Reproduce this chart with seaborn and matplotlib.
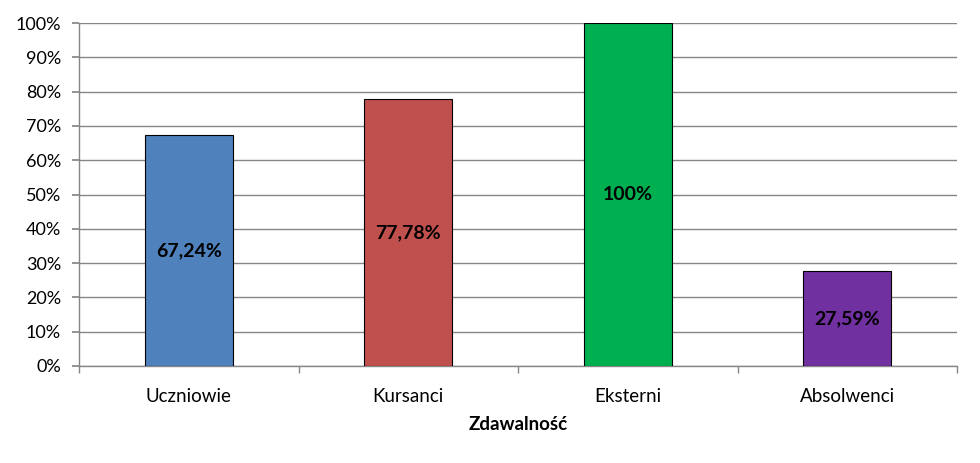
import matplotlib
matplotlib.use("Agg")
import matplotlib.pyplot as plt
import seaborn as sns
import pandas as pd
from matplotlib.ticker import PercentFormatter, FixedLocator

categories = ["Uczniowie", "Kursanci", "Eksterni", "Absolwenci"]
values = [67.24, 77.78, 100.0, 27.59]
value_labels = ["67,24%", "77,78%", "100%", "27,59%"]
colors = ["#4F81BD", "#C0504D", "#00B050", "#7030A0"]
xlabel = "Zdawalność"

sns.set_theme(style="white")
plt.rcParams["font.family"] = ["Lato", "DejaVu Sans"]

df = pd.DataFrame({"cat": categories, "val": values})

fig = plt.figure(figsize=(9.8, 4.63), dpi=100)
ax = fig.add_axes([79/980, 97/463, (957-79)/980, (366-23)/463])

sns.barplot(data=df, x="cat", y="val", hue="cat", palette=colors, legend=False,
            saturation=1, width=0.4, edgecolor="black", linewidth=0.8, ax=ax, zorder=3)

ax.set_ylim(0, 100)
ax.set_xlim(-0.5, len(categories) - 0.5)
ax.yaxis.set_major_locator(FixedLocator(range(0, 101, 10)))
ax.yaxis.set_major_formatter(PercentFormatter(decimals=0))
ax.grid(axis="y", color="#868686", linewidth=1, zorder=0)
ax.set_axisbelow(True)

for s in ["top", "right"]:
    ax.spines[s].set_visible(False)
for s in ["left", "bottom"]:
    ax.spines[s].set_color("#868686")
    ax.spines[s].set_linewidth(1)

ax.tick_params(axis="y", which="major", left=True, length=5, color="#868686",
               labelsize=13, pad=8, labelcolor="black")
ax.set_xticks(range(len(categories)))
ax.set_xticklabels(categories)
ax.set_xticks([i + 0.5 for i in range(-1, len(categories))], minor=True)
ax.tick_params(axis="x", which="major", bottom=False, labelsize=13.5, pad=10, labelcolor="black")
ax.tick_params(axis="x", which="minor", bottom=True, length=5, color="#868686")

ax.set_xlabel(xlabel, fontsize=13.5, fontweight="bold", labelpad=8, color="black")
ax.set_ylabel("")

for i, (v, lab) in enumerate(zip(values, value_labels)):
    ax.text(i, v / 2, lab, ha="center", va="center", fontsize=14,
            fontweight="bold", color="black", zorder=4)

fig.savefig("out.png", dpi=100)
